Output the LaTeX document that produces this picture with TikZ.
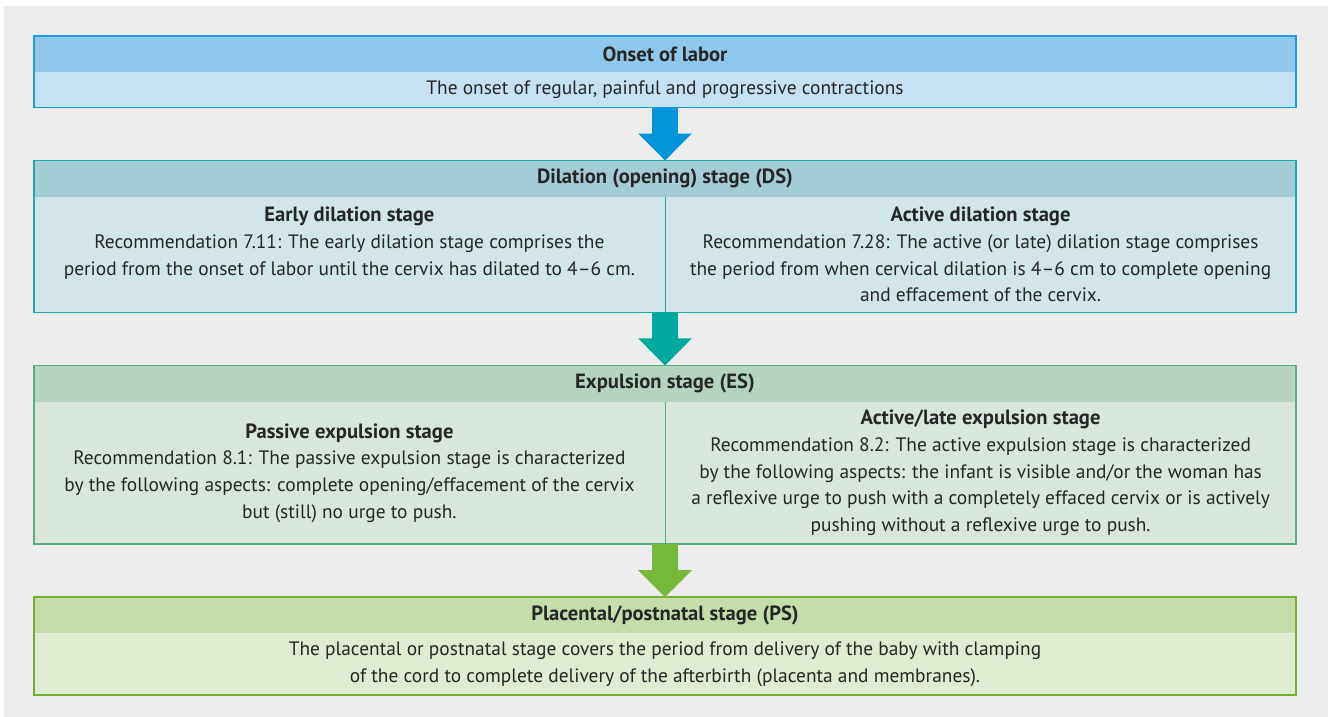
\documentclass[tikz,border=0pt]{standalone}
\usepackage{fontspec}
\setmainfont{PT Sans}
\usetikzlibrary{arrows.meta,calc,positioning}

\definecolor{panel}{HTML}{EBECEB}
\definecolor{ink}{HTML}{262626}
\definecolor{onsetline}{HTML}{1E9CD8}
\definecolor{onsethead}{HTML}{8FC8EC}
\definecolor{onsetfill}{HTML}{C5E1F4}
\definecolor{onsetarrow}{HTML}{0095DA}
\definecolor{dsline}{HTML}{20A7AE}
\definecolor{dshead}{HTML}{A2CDD5}
\definecolor{dsfill}{HTML}{D2E5E9}
\definecolor{dsarrow}{HTML}{00A99D}
\definecolor{esline}{HTML}{5DAE7E}
\definecolor{eshead}{HTML}{B5D4C0}
\definecolor{esfill}{HTML}{D8E6DC}
\definecolor{psline}{HTML}{73B033}
\definecolor{pshead}{HTML}{C5DDA8}
\definecolor{psfill}{HTML}{DFECD2}
\definecolor{psarrow}{HTML}{76B83A}

\newcommand{\txtsize}{\fontsize{19.4}{26.7}\selectfont}
\newcommand{\hd}[1]{{\fontsize{20.6}{26.7}\selectfont\bfseries #1}}

\tikzset{
  header/.style={minimum width=1262pt, minimum height=36pt, inner sep=0pt,
    text=ink, font=\fontsize{20.6}{26.7}\selectfont\bfseries},
  body/.style={minimum width=1262pt, inner sep=0pt, text=ink, align=center,
    font=\txtsize},
  coltext/.style={align=center, inner sep=0pt, text=ink, font=\txtsize},
  frame/.style={line width=1.5pt},
  stagearrow/.style={line width=26pt, -{Triangle[width=52pt,length=27pt]}},
}

\begin{document}
\begin{tikzpicture}[x=1pt,y=-1pt, node distance=0pt]
\useasboundingbox (0,0) rectangle (1328,717);
\fill[panel] (4,6) rectangle (1328,717);

% onset of labor
\node[header, fill=onsethead] (onsethd) at (665,54) {Onset of labor};
\node[body, fill=onsetfill, minimum height=35pt, below=of onsethd] (onsetbd)
  {The onset of regular, painful and progressive contractions};
\draw[frame, onsetline] (onsethd.north west) rectangle (onsetbd.south east);

% dilation stage
\node[header, fill=dshead, below=53pt of onsetbd] (dshd) {Dilation (opening) stage (DS)};
\node[body, fill=dsfill, minimum height=115pt, below=of dshd] (dsbd) {};
\draw[frame, dsline] (dshd.north west) rectangle (dsbd.south east);
\draw[dsline] (dsbd.north) -- (dsbd.south);
\coordinate (dsL) at ($(dsbd.west)!0.5!(dsbd.center)$);
\coordinate (dsR) at ($(dsbd.east)!0.5!(dsbd.center)$);
\node[coltext] (dsr) at (dsR) {\hd{Active dilation stage}\\
  Recommendation 7.28: The active (or late) dilation stage comprises\\
  the period from when cervical dilation is 4--6 cm to complete opening\\
  and effacement of the cervix.};
\node[coltext, anchor=north] (dsl) at (dsL |- dsr.north) {\hd{Early dilation stage}\\
  Recommendation 7.11: The early dilation stage comprises the\\
  period from the onset of labor until the cervix has dilated to 4--6 cm.};

% expulsion stage
\node[header, fill=eshead, below=53pt of dsbd] (eshd) {Expulsion stage (ES)};
\node[body, fill=esfill, minimum height=142pt, below=of eshd] (esbd) {};
\draw[frame, esline] (eshd.north west) rectangle (esbd.south east);
\draw[esline] (esbd.north) -- (esbd.south);
\coordinate (esL) at ($(esbd.west)!0.5!(esbd.center)$);
\coordinate (esR) at ($(esbd.east)!0.5!(esbd.center)$);
\node[coltext] (esl) at (esL) {\hd{Passive expulsion stage}\\
  Recommendation 8.1: The passive expulsion stage is characterized\\
  by the following aspects: complete opening/effacement of the cervix\\
  but (still) no urge to push.};
\node[coltext] (esr) at (esR) {\hd{Active/late expulsion stage}\\
  Recommendation 8.2: The active expulsion stage is characterized\\
  by the following aspects: the infant is visible and/or the woman has\\
  a reflexive urge to push with a completely effaced cervix or is actively\\
  pushing without a reflexive urge to push.};

% placental stage
\node[header, fill=pshead, below=53pt of esbd] (pshd) {Placental/postnatal stage (PS)};
\node[body, fill=psfill, minimum height=61pt, below=of pshd] (psbd)
  {The placental or postnatal stage covers the period from delivery of the baby with clamping\\
   of the cord to complete delivery of the afterbirth (placenta and membranes).};
\draw[frame, psline] (pshd.north west) rectangle (psbd.south east);

% arrows between stages
\draw[stagearrow, onsetarrow] (onsetbd.south) -- (dshd.north);
\draw[stagearrow, dsarrow] (dsbd.south) -- (eshd.north);
\draw[stagearrow, psarrow] (esbd.south) -- (pshd.north);
\end{tikzpicture}
\end{document}
